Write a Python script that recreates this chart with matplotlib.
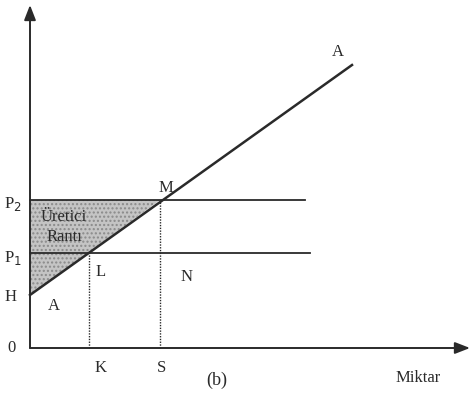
import matplotlib
matplotlib.use("Agg")
import matplotlib.pyplot as plt
from matplotlib.patches import Polygon

# Values (diagram units, origin at 0)
H = 53          # supply-line intercept
P1 = 95
P2 = 148
K = 59
S = 130
supply_x = [0, 322]
supply_y = [53, 283]
p_line_end = [275, 280]   # x-extent of P2 and P1 horizontals

fig = plt.figure(figsize=(4.7, 3.96), dpi=100)
ax = fig.add_axes([0, 0, 1, 1])
ax.set_xlim(-30, 440)
ax.set_ylim(-48, 348)
ax.axis("off")

plt.rcParams['font.family'] = ['Liberation Serif', 'DejaVu Serif']
col = "#2a2a2a"
fs = 12

# shaded producer-surplus triangle
tri = Polygon([[0, H], [0, P2], [S, P2]], closed=True, facecolor="#c4c4c4",
              edgecolor="#8a8a8a", hatch="....", lw=0, zorder=1)
ax.add_patch(tri)

# axes with arrows
ax.annotate("", xy=(0, 343), xytext=(0, 0),
            arrowprops=dict(arrowstyle="-|>,head_length=0.9,head_width=0.35",
                            color=col, lw=1.4, shrinkA=0, shrinkB=0))
ax.annotate("", xy=(440, 0), xytext=(0, 0),
            arrowprops=dict(arrowstyle="-|>,head_length=0.9,head_width=0.35",
                            color=col, lw=1.4, shrinkA=0, shrinkB=0))

# supply line
ax.plot(supply_x, supply_y, color=col, lw=1.8, zorder=3)
# price lines
ax.plot([0, p_line_end[0]], [P2, P2], color=col, lw=1.3, zorder=3)
ax.plot([0, p_line_end[1]], [P1, P1], color=col, lw=1.3, zorder=3)
# dotted verticals
ax.plot([K, K], [0, P1], color=col, lw=1.0, ls=(0, (1, 1)), zorder=2)
ax.plot([S, S], [0, P2], color=col, lw=1.0, ls=(0, (1, 1)), zorder=2)

tk = dict(fontsize=fs, color=col, ha="center", va="center")
ax.text(-17, P2 - 4, "P$_2$", **tk)
ax.text(-17, P1 - 5, "P$_1$", **tk)
ax.text(-19, H - 2, "H", **tk)
ax.text(-18, 0, "0", **tk)
ax.text(24, 42, "A", **tk)
ax.text(71, 76, "L", **tk)
ax.text(157, 71, "N", **tk)
ax.text(136, 160, "M", **tk)
ax.text(308, 296, "A", **tk)
ax.text(71, -20, "K", **tk)
ax.text(132, -20, "S", **tk)
ax.text(187, -32, "(b)", fontsize=13, color=col, ha="center", va="center")
ax.text(388, -30, "Miktar", fontsize=12, color=col, ha="center", va="center")
ax.text(34, 131, "Üretici", **tk)
ax.text(34, 111, "Rantı", **tk)

fig.savefig("out.png", dpi=100)
